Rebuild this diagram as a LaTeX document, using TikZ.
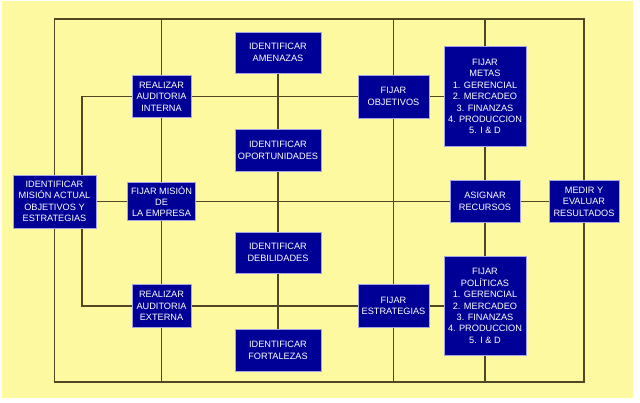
\documentclass[tikz,border=0pt]{standalone}
\usepackage{fontspec}
\setmainfont{Liberation Sans}
\usetikzlibrary{calc, backgrounds}
\definecolor{fondo}{RGB}{253,249,160}
\definecolor{azul}{RGB}{0,0,150}
\definecolor{oliva}{RGB}{80,72,36}
\definecolor{borde}{RGB}{165,165,230}

\begin{document}
\begin{tikzpicture}[x=1pt, y=-1pt, caja/.style={rectangle, fill=azul, draw=borde, line width=0.6pt, text=white, align=center, inner sep=0pt, font=\fontsize{9.2}{11.4}\selectfont}, linea/.style={draw=oliva, line width=1.7pt}]
    \useasboundingbox (0,0) rectangle (640,402);
    \coordinate (arriba) at (0,19);
    \coordinate (abajo) at (0,382);

    \node[caja, minimum width=83pt, minimum height=53pt] (idmision) at (54.5,201.5) {IDENTIFICAR\\MISIÓN ACTUAL\\OBJETIVOS Y\\ESTRATEGIAS};
    \node[caja, minimum width=59pt, minimum height=42pt] (interna) at (161.5,96.5) {REALIZAR\\AUDITORIA\\INTERNA};
    \node[caja, minimum width=68pt, minimum height=38pt] (fijmision) at (161.5,201.5) {FIJAR MISIÓN\\DE\\LA EMPRESA};
    \node[caja, minimum width=59pt, minimum height=43pt] (externa) at (161.5,306) {REALIZAR\\AUDITORIA\\EXTERNA};
    \node[caja, minimum width=86pt, minimum height=41pt] (amenazas) at (278,52.5) {IDENTIFICAR\\AMENAZAS};
    \node[caja, minimum width=86pt, minimum height=42pt] (oportunidades) at (278,150.5) {IDENTIFICAR\\OPORTUNIDADES};
    \node[caja, minimum width=86pt, minimum height=41pt] (debilidades) at (278,252.5) {IDENTIFICAR\\DEBILIDADES};
    \node[caja, minimum width=86pt, minimum height=42pt] (fortalezas) at (278,350.5) {IDENTIFICAR\\FORTALEZAS};
    \node[caja, minimum width=71pt, minimum height=43pt] (objetivos) at (393.5,96.5) {FIJAR\\OBJETIVOS};
    \node[caja, minimum width=71pt, minimum height=43pt] (estrategias) at (393.5,306) {FIJAR\\ESTRATEGIAS};
    \node[caja, minimum width=82pt, minimum height=100pt] (metas) at (485,96.5) {FIJAR\\METAS\\1. GERENCIAL\\2. MERCADEO\\3. FINANZAS\\4. PRODUCCION\\5. I \& D};
    \node[caja, minimum width=70pt, minimum height=42pt] (recursos) at (485,201.5) {ASIGNAR\\RECURSOS};
    \node[caja, minimum width=82pt, minimum height=99pt] (politicas) at (485,306) {FIJAR\\POLÍTICAS\\1. GERENCIAL\\2. MERCADEO\\3. FINANZAS\\4. PRODUCCION\\5. I \& D};
    \node[caja, minimum width=70pt, minimum height=42pt] (medir) at (584,201.5) {MEDIR Y\\EVALUAR\\RESULTADOS};

    \begin{scope}[on background layer]
    \fill[white] (0,0) rectangle (640,402);
    \fill[fondo] (2,1) rectangle (633,398);
    % marco exterior
    \draw[linea] (idmision.north) |- (medir.north |- arriba) -- (medir.north);
    \draw[linea] (idmision.south) |- (medir.south |- abajo) -- (medir.south);
    % marco interior
    \draw[linea] ([xshift=27.5pt]idmision.north) |- (interna.west);
    \draw[linea] ([xshift=27.5pt]idmision.south) |- (externa.west);

    \draw[linea] (interna.north) -- (interna.north |- arriba);
    \draw[linea] (interna) -- (fijmision);
    \draw[linea] (fijmision) -- (externa);
    \draw[linea] (externa.south) -- (externa.south |- abajo);

    \draw[linea] (amenazas) -- (oportunidades);
    \draw[linea] (oportunidades) -- (debilidades);
    \draw[linea] (debilidades) -- (fortalezas);

    \draw[linea] (objetivos.north) -- (objetivos.north |- arriba);
    \draw[linea] (objetivos) -- (estrategias);
    \draw[linea] (estrategias.south) -- (estrategias.south |- abajo);

    \draw[linea] (metas.north) -- (metas.north |- arriba);
    \draw[linea] (metas) -- (recursos);
    \draw[linea] (recursos) -- (politicas);
    \draw[linea] (politicas.south) -- (politicas.south |- abajo);

    \draw[linea] (interna) -- (objetivos);
    \draw[linea] (objetivos) -- (metas);
    \draw[linea] (idmision) -- (fijmision);
    \draw[linea] (fijmision) -- (recursos);
    \draw[linea] (recursos) -- (medir);
    \draw[linea] (externa) -- (estrategias);
    \draw[linea] (estrategias) -- (politicas);
    \end{scope}
\end{tikzpicture}
\end{document}
